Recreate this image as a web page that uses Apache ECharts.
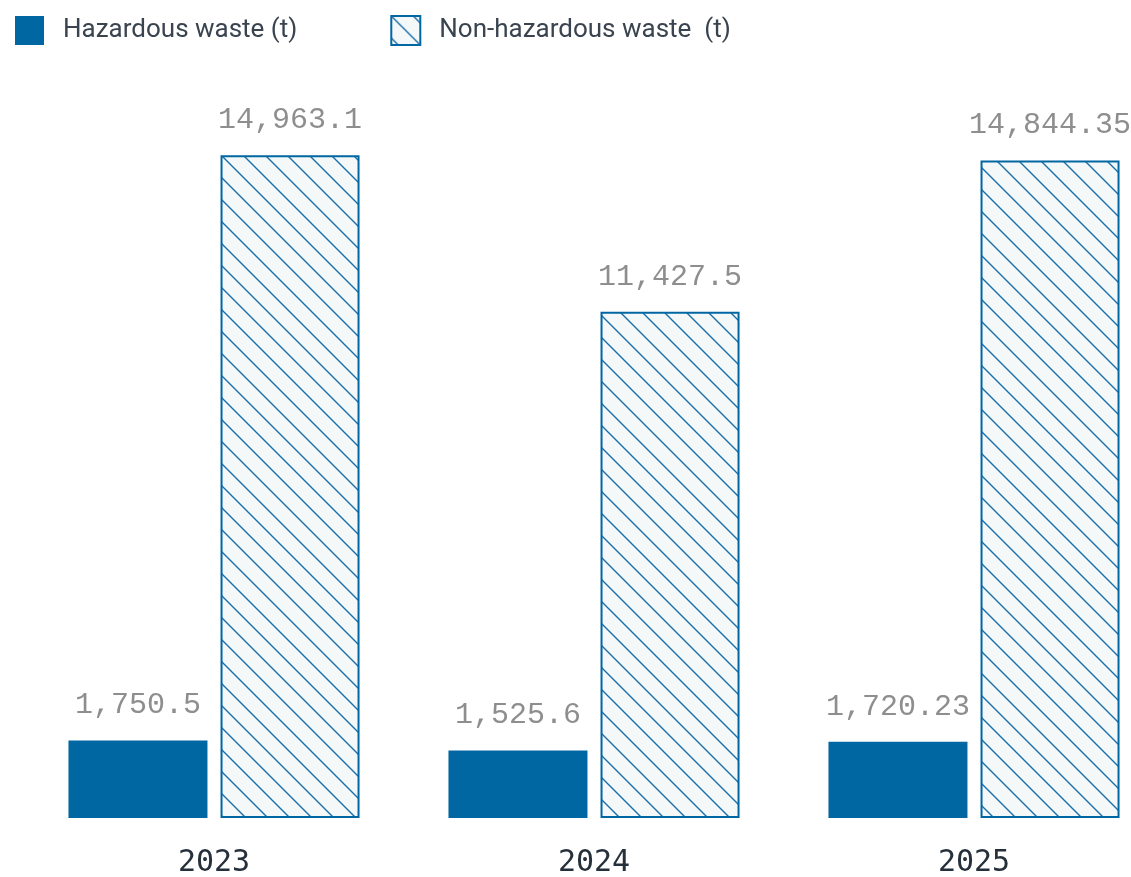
<!DOCTYPE html>
<html>
<head>
<meta charset="utf-8">
<script src="https://cdn.jsdelivr.net/npm/echarts@6/dist/echarts.min.js"></script>
<style>
  html, body { margin: 0; padding: 0; background: #ffffff; }
  #chart { width: 1131px; height: 877px; }
</style>
</head>
<body>
<div id="chart"></div>
<script>
// Waste generated per year, in tonnes
const years = ['2023', '2024', '2025'];
const hazardous = [1750.5, 1525.6, 1720.23];
const nonHazardous = [14963.1, 11427.5, 14844.35];
const seriesNames = ['Hazardous waste (t)', 'Non-hazardous waste  (t)'];

const BLUE = '#0067a3';

// Diagonal hatch tile for the non-hazardous bars
function hatchTile() {
  const size = 22;
  const c = document.createElement('canvas');
  c.width = size; c.height = size;
  const ctx = c.getContext('2d');
  ctx.fillStyle = '#f5f8f9';
  ctx.fillRect(0, 0, size, size);
  ctx.strokeStyle = '#1b6fa8';
  ctx.lineWidth = 1.4;
  ctx.beginPath();
  ctx.moveTo(-2, -2); ctx.lineTo(size + 2, size + 2);
  ctx.moveTo(-2, size - 2); ctx.lineTo(2, size + 2);
  ctx.moveTo(size - 2, -2); ctx.lineTo(size + 2, 2);
  ctx.stroke();
  return c;
}

const fmt = v => v.toLocaleString('en-US', { maximumFractionDigits: 2 });

const valueLabel = {
  show: true,
  position: 'top',
  distance: 20,
  fontFamily: '"Liberation Mono", monospace',
  fontSize: 30,
  lineHeight: 30,
  color: '#8e8e8e',
  formatter: p => fmt(p.value)
};

const chart = echarts.init(document.getElementById('chart'), null, { renderer: 'canvas' });
chart.setOption({
  animation: false,
  backgroundColor: '#ffffff',
  legend: {
    left: 15,
    top: 15,
    padding: 0,
    icon: 'rect',
    itemWidth: 29,
    itemHeight: 29,
    itemGap: 93,
    textStyle: {
      fontFamily: 'Roboto, "Noto Sans", sans-serif',
      fontSize: 26,
      color: '#3a4450',
      padding: [0, 0, 0, 14]
    },
    data: seriesNames
  },
  grid: { left: 24, top: 65, bottom: 59, right: -33, outerBoundsMode: 'none', containLabel: false },
  xAxis: {
    type: 'category',
    data: years,
    axisLine: { show: false },
    axisTick: { show: false },
    axisLabel: {
      margin: 30,
      fontFamily: '"DejaVu Sans Mono", monospace',
      fontSize: 30,
      lineHeight: 30,
      color: '#26303b'
    }
  },
  yAxis: {
    type: 'value',
    min: 0,
    max: 17000,
    show: false,
    splitLine: { show: false }
  },
  series: [
    {
      name: seriesNames[0],
      type: 'bar',
      data: hazardous,
      barWidth: 139,
      barGap: '9.4%',
      itemStyle: { color: BLUE },
      label: valueLabel
    },
    {
      name: seriesNames[1],
      type: 'bar',
      data: nonHazardous,
      barWidth: 139,
      itemStyle: {
        color: { image: hatchTile(), repeat: 'repeat' },
        borderColor: BLUE,
        borderWidth: 2
      },
      label: valueLabel
    }
  ]
});
</script>
</body>
</html>
